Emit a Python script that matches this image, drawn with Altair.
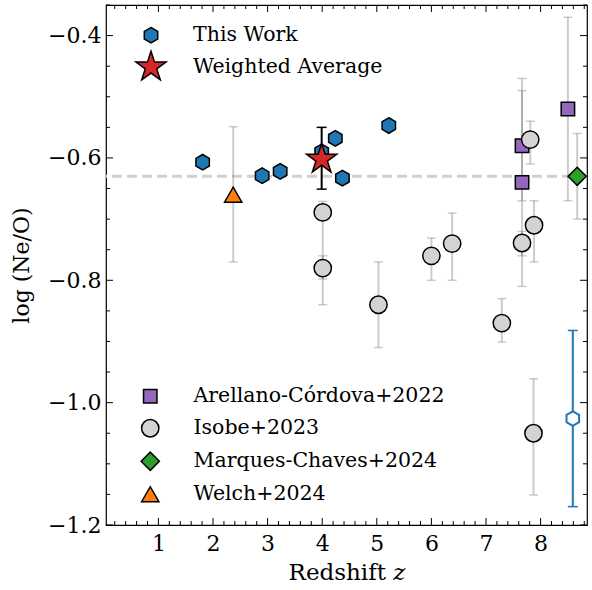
import math
import altair as alt
import pandas as pd

# ---------------- data ----------------
work_z = [1.81, 2.90, 3.23, 3.99, 4.24, 4.37, 5.22]
work_y = [-0.607, -0.629, -0.622, -0.590, -0.568, -0.633, -0.547]

avg_z = [3.99]
avg_y = [-0.602]
avg_hi = [-0.550]
avg_lo = [-0.651]

typ_z = [8.59]
typ_y = [-1.026]
typ_hi = [-0.882]
typ_lo = [-1.170]

arellano_z = [7.66, 7.66, 8.50]
arellano_y = [-0.580, -0.640, -0.520]
arellano_hi = [-0.490, -0.470, -0.370]
arellano_lo = [-0.670, -0.810, -0.670]

isobe_z = [4.01, 4.01, 5.03, 6.00, 6.38, 7.29, 7.66, 7.88, 7.81, 7.87]
isobe_y = [-0.689, -0.780, -0.840, -0.760, -0.740, -0.870, -0.739, -0.710, -0.570, -1.050]
isobe_hi = [-0.671, -0.760, -0.770, -0.731, -0.690, -0.830, -0.720, -0.670, -0.540, -0.961]
isobe_lo = [-0.798, -0.840, -0.910, -0.800, -0.800, -0.901, -0.760, -0.770, -0.610, -1.151]

marques_z = [8.67]
marques_y = [-0.630]
marques_hi = [-0.560]
marques_lo = [-0.700]

welch_z = [2.37]
welch_y = [-0.660]
welch_hi = [-0.549]
welch_lo = [-0.770]

avg_line = [-0.630]

x_major = [1, 2, 3, 4, 5, 6, 7, 8]
y_major = [-1.2, -1.0, -0.8, -0.6, -0.4]

# ---------------- styling ----------------
W, H = 481, 520
FONT = "DejaVu Serif"
HEX = "M0,-1L0.866,-0.5L0.866,0.5L0,1L-0.866,0.5L-0.866,-0.5Z"
pts = []
for k in range(10):
    r = 1.0 if k % 2 == 0 else 0.382
    a = math.radians(-90 + 36 * k)
    pts.append(f"{r*math.cos(a):.4f},{r*math.sin(a):.4f}")
STAR = "M" + "L".join(pts) + "Z"

lit_names = ["Arellano-Córdova+2022", "Isobe+2023", "Marques-Chaves+2024", "Welch+2024"]
lit_colors = ["#9467bd", "#d3d3d3", "#2ca02c", "#ff7f0e"]
lit_shapes = ["square", "circle", "diamond", "triangle-up"]
lit_sizes = [180, 300, 330, 300]

work_names = ["This Work", "Weighted Average"]
work_colors = ["#1f77b4", "#d62728"]
work_shapes = [HEX, STAR]
work_sizes = [240, 1000]

xscale = alt.Scale(domain=[0.04, 8.85], nice=False, zero=False)
yscale = alt.Scale(domain=[-1.2, -0.35], nice=False, zero=False)

xaxis = alt.Axis(values=x_major, format="d", ticks=False, domain=False, grid=False,
                 labelFont=FONT, labelFontSize=22, labelColor="black", labelPadding=8,
                 title="Redshift 𝑧", titleFont=FONT, titleFontSize=23, titleFontWeight="normal",
                 titleColor="black", titlePadding=7)
yaxis = alt.Axis(values=y_major, format=".1f", ticks=False, domain=False, grid=False,
                 labelFont=FONT, labelFontSize=22, labelColor="black", labelPadding=5,
                 title="log (Ne/O)", titleFont=FONT, titleFontSize=22, titleFontWeight="normal",
                 titleColor="black", titlePadding=14)

X = alt.X("z:Q", scale=xscale, axis=xaxis)
Y = alt.Y("y:Q", scale=yscale, axis=yaxis)

# ---------------- tables ----------------
lit_rows = []
for name, zs, ys, his, los in [
    (lit_names[0], arellano_z, arellano_y, arellano_hi, arellano_lo),
    (lit_names[1], isobe_z, isobe_y, isobe_hi, isobe_lo),
    (lit_names[2], marques_z, marques_y, marques_hi, marques_lo),
    (lit_names[3], welch_z, welch_y, welch_hi, welch_lo),
]:
    for z, y, hi, lo in zip(zs, ys, his, los):
        lit_rows.append({"src": name, "z": z, "y": y, "hi": hi, "lo": lo})
lit_df = pd.DataFrame(lit_rows)

work_df = pd.DataFrame(
    [{"src": "This Work", "z": z, "y": y} for z, y in zip(work_z, work_y)]
    + [{"src": "Weighted Average", "z": z, "y": y} for z, y in zip(avg_z, avg_y)]
)
avg_df = pd.DataFrame({"z": avg_z, "y": avg_y, "hi": avg_hi, "lo": avg_lo})
typ_df = pd.DataFrame({"z": typ_z, "y": typ_y, "hi": typ_hi, "lo": typ_lo})


def errbars(df, color, opacity, width, cap):
    rule = alt.Chart(df).mark_rule(color=color, opacity=opacity, strokeWidth=width).encode(
        x=X, y=alt.Y("lo:Q", scale=yscale, axis=yaxis), y2="hi:Q")
    caps = alt.Chart(df).transform_fold(["lo", "hi"], as_=["k", "v"]).mark_tick(
        orient="horizontal", color=color, opacity=opacity, size=cap, thickness=1.5).encode(
        x=X, y=alt.Y("v:Q", scale=yscale, axis=yaxis))
    return [rule, caps]


hline = alt.Chart(pd.DataFrame({"y": avg_line})).mark_rule(
    color="#d0d0d0", strokeWidth=3, strokeDash=[10, 5]).encode(y=Y)

leg_common = dict(title=None, orient="none", labelFont=FONT, labelFontSize=20.5,
                  labelColor="black", symbolStrokeColor="black", symbolStrokeWidth=1.5,
                  symbolOpacity=1, padding=0, labelLimit=400)


def point_layer(df, names, colors, shapes, sizes, leg):
    return alt.Chart(df).mark_point(filled=True, stroke="black", strokeWidth=1.5, opacity=1).encode(
        x=X, y=Y,
        fill=alt.Fill("src:N", scale=alt.Scale(domain=names, range=colors), legend=leg),
        stroke=alt.Stroke("src:N", scale=alt.Scale(domain=names, range=["black"] * len(names)), legend=leg),
        shape=alt.Shape("src:N", scale=alt.Scale(domain=names, range=shapes), legend=leg),
        size=alt.Size("src:N", scale=alt.Scale(type="ordinal", domain=names, range=sizes), legend=leg),
    )


leg2 = alt.Legend(legendX=34, legendY=381, rowPadding=9, labelOffset=33, **leg_common)
lit_pts = point_layer(lit_df, lit_names, lit_colors, lit_shapes, lit_sizes, leg2)

leg1 = alt.Legend(legendX=28, legendY=20, rowPadding=2, labelOffset=25, **leg_common)
work_pts = point_layer(work_df, work_names, work_colors, work_shapes, work_sizes, leg1)

typ_pt = alt.Chart(typ_df).mark_point(shape=HEX, filled=True, fill="white", stroke="#1f77b4",
                                      strokeWidth=2, size=210, opacity=1).encode(x=X, y=Y)

# inward axis ticks on all four sides
x_minor = [round(i * 0.2, 1) for i in range(1, 45) if i % 5 != 0]
y_minor = [round(-1.2 + i * 0.05, 2) for i in range(0, 18) if i % 4 != 0]
tick_layers = []
for vals, L in [(x_major, 7), (x_minor, 4)]:
    d = pd.DataFrame({"z": vals})
    tick_layers.append(alt.Chart(d).mark_rule(color="black", strokeWidth=1).encode(
        x=X, y=alt.value(H), y2=alt.value(H - L)))
    tick_layers.append(alt.Chart(d).mark_rule(color="black", strokeWidth=1).encode(
        x=X, y=alt.value(0), y2=alt.value(L)))
for vals, L in [(y_major, 7), (y_minor, 4)]:
    d = pd.DataFrame({"y": vals})
    tick_layers.append(alt.Chart(d).mark_rule(color="black", strokeWidth=1).encode(
        y=Y, x=alt.value(0), x2=alt.value(L)))
    tick_layers.append(alt.Chart(d).mark_rule(color="black", strokeWidth=1).encode(
        y=Y, x=alt.value(W), x2=alt.value(W - L)))

layers = ([hline]
          + errbars(lit_df, "gray", 0.4, 2, 9)
          + [lit_pts]
          + errbars(typ_df, "#1f77b4", 1, 2, 10)
          + [typ_pt]
          + errbars(avg_df, "black", 1, 2, 10)
          + [work_pts]
          + tick_layers)

chart = alt.layer(*layers).resolve_scale(
    fill="independent", stroke="independent", shape="independent", size="independent"
).properties(
    width=W, height=H,
    autosize=alt.AutoSizeParams(type="none"),
    padding={"left": 106, "top": 5, "right": 5, "bottom": 65},
).configure_view(stroke="black", strokeWidth=1.2)

chart.save("out.html", embed_options={"renderer": "svg", "actions": False})
